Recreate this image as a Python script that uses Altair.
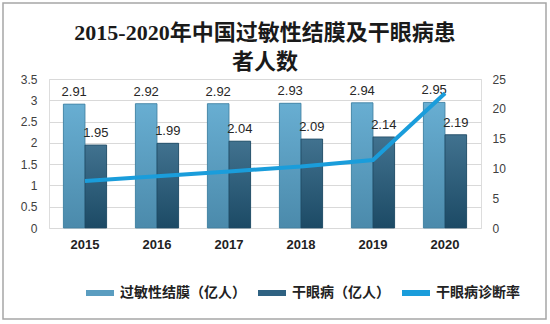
import altair as alt
import pandas as pd

years = ["2015", "2016", "2017", "2018", "2019", "2020"]
allergic = [2.91, 2.92, 2.92, 2.93, 2.94, 2.95]
dry_eye = [1.95, 1.99, 2.04, 2.09, 2.14, 2.19]
diag_rate = [7.9, 8.7, 9.5, 10.3, 11.4, 22.6]

s1 = "过敏性结膜（亿人）"
s2 = "干眼病（亿人）"
s3 = "干眼病诊断率"

bars = pd.DataFrame(
    {"year": years * 2,
     "series": [s1] * 6 + [s2] * 6,
     "value": allergic + dry_eye}
)
line_df = pd.DataFrame({"year": years, "rate": diag_rate, "series": [s3] * 6})

FONT = "Liberation Sans, Noto Sans CJK SC"
CJK = "Noto Sans CJK SC"

color_scale = alt.Scale(domain=[s1, s2, s3], range=["#5a9dc0", "#2f6282", "#1a9ddb"])
legend = alt.Legend(
    orient="none", legendX=34, legendY=197, direction="horizontal", title=None,
    symbolType="stroke", symbolStrokeWidth=6, symbolSize=784,
    labelFont=CJK, labelFontSize=14, labelFontWeight="bold", labelColor="#222222",
    labelOffset=3, columnPadding=0, labelLimit=300,
)

x_enc = alt.X("year:N", title=None,
              scale=alt.Scale(paddingInner=0.4, paddingOuter=0.2),
              axis=alt.Axis(labelAngle=0, labelFontWeight="bold", labelFontSize=13,
                            labelColor="#222222", labelFont=FONT, ticks=False,
                            domain=False, labelPadding=10))
xoff = alt.XOffset("series:N", scale=alt.Scale(domain=[s1, s2], paddingInner=0))
y_left = alt.Y("value:Q", title=None,
               scale=alt.Scale(domain=[0, 3.5]),
               axis=alt.Axis(values=[0, 0.5, 1, 1.5, 2, 2.5, 3, 3.5], format="~g",
                             ticks=False, domain=False, labelPadding=12, labelFontSize=12,
                             labelColor="#404040", labelFont=FONT,
                             gridColor="#d9d9d9", gridWidth=1, labelFlush=False))

grad1 = {"gradient": "linear", "x1": 0, "y1": 0, "x2": 0, "y2": 1,
         "stops": [{"offset": 0, "color": "#68aed2"}, {"offset": 1, "color": "#4b8aab"}]}
grad2 = {"gradient": "linear", "x1": 0, "y1": 0, "x2": 0, "y2": 1,
         "stops": [{"offset": 0, "color": "#41728f"}, {"offset": 1, "color": "#1c4a65"}]}

base_bars = alt.Chart(bars).mark_bar().encode(
    x=x_enc, xOffset=xoff, y=y_left,
    color=alt.Color("series:N", scale=color_scale, legend=legend),
)
bar1 = alt.Chart(bars).transform_filter(alt.datum.series == s1).mark_bar(
    fill=grad1, stroke="#3f7f9f", strokeWidth=0.8).encode(
    x=x_enc, xOffset=xoff, y=y_left)
bar2 = alt.Chart(bars).transform_filter(alt.datum.series == s2).mark_bar(
    fill=grad2, stroke="#1f4a63", strokeWidth=0.8).encode(
    x=x_enc, xOffset=xoff, y=y_left)

labels = alt.Chart(bars).mark_text(
    baseline="alphabetic", dy=-8, fontSize=13, font=FONT, color="#262626"
).encode(x=x_enc, xOffset=xoff, y=y_left, text=alt.Text("value:Q", format=".2f"))

left = alt.layer(base_bars, bar1, bar2, labels)

line = alt.Chart(line_df).mark_line(strokeWidth=4, strokeCap="butt").encode(
    x=x_enc,
    y=alt.Y("rate:Q", title=None, scale=alt.Scale(domain=[0, 25]),
            axis=alt.Axis(orient="right", values=[0, 5, 10, 15, 20, 25], ticks=False,
                          domain=False, grid=False, labelPadding=11, labelFontSize=12,
                          labelColor="#404040", labelFont=FONT, labelFlush=False)),
    color=alt.Color("series:N", scale=color_scale, legend=legend),
)

frame = alt.Chart(pd.DataFrame({"k": [0]})).mark_rect(
    fill=None, stroke="#a6a6a6", strokeWidth=1.5
).encode(x=alt.value(-46), x2=alt.value(497), y=alt.value(-76), y2=alt.value(240))

chart = alt.layer(left, line, frame).resolve_scale(y="independent").properties(
    width=432, height=149,
    title=alt.TitleParams(
        text=["2015-2020年中国过敏性结膜及干眼病患", "者人数"],
        font="Liberation Serif, Noto Sans CJK SC", fontSize=22, fontWeight="bold",
        color="#1a1a1a", lineHeight=29, anchor="middle", frame="group", offset=-72),
    autosize=alt.AutoSizeParams(type="none"),
    padding={"left": 49, "top": 79, "right": 69, "bottom": 96},
).configure_view(stroke=None).configure(background="white")

chart.save("out.html", embed_options={"renderer": "svg", "actions": False})
